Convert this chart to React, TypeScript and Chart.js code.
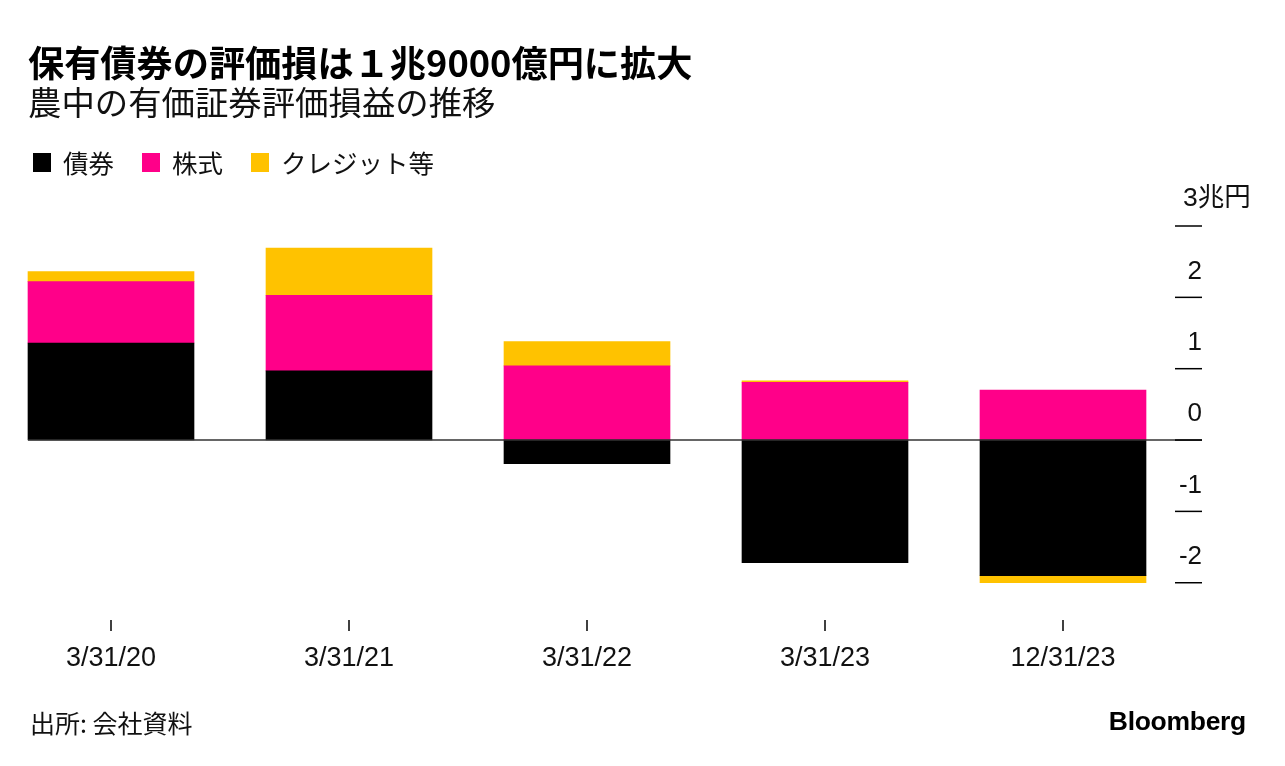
import React, { useEffect, useRef } from "react";
import { Chart, registerables } from "chart.js";

Chart.register(...registerables);

const categories = ["3/31/20", "3/31/21", "3/31/22", "3/31/23", "12/31/23"];
const bonds = [1.36, 0.97, -0.33, -1.72, -1.9];
const stocks = [0.86, 1.06, 1.04, 0.81, 0.7];
const credit = [0.14, 0.66, 0.34, 0.02, -0.1];
const seriesNames = ["債券", "株式", "クレジット等"];
const seriesColors = ["#000000", "#FF0089", "#FFC200"];
const yTickValues = [-2, -1, 0, 1, 2, 3];
const yTickLabels = ["-2", "-1", "0", "1", "2", "3兆円"];

const title = "保有債券の評価損は１兆9000億円に拡大";
const subtitle = "農中の有価証券評価損益の推移";
const source = "出所: 会社資料";

const BAR_W = 166;
const CJK = '"Noto Sans CJK JP", "Liberation Sans", sans-serif';
const LATIN = '"Liberation Sans", "Noto Sans CJK JP", sans-serif';

const axisPlugin = {
  id: "customAxes",
  afterDatasetsDraw(chart: any) {
    const ctx = chart.ctx;
    const xs = chart.scales.x;
    const ys = chart.scales.y;
    const tickLeft = 1175;
    const tickRight = 1202;
    ctx.save();
    // zero line
    const y0 = ys.getPixelForValue(0);
    ctx.strokeStyle = "#333";
    ctx.lineWidth = 1.5;
    ctx.beginPath();
    ctx.moveTo(xs.getPixelForValue(0) - BAR_W / 2, y0);
    ctx.lineTo(tickRight, y0);
    ctx.stroke();
    // y ticks
    ctx.strokeStyle = "#000";
    ctx.fillStyle = "#111";
    ctx.textBaseline = "middle";
    yTickValues.forEach((v, i) => {
      const py = ys.getPixelForValue(v);
      ctx.beginPath();
      ctx.moveTo(tickLeft, py);
      ctx.lineTo(tickRight, py);
      ctx.stroke();
      const lab = yTickLabels[i];
      if (lab.length > 2) {
        ctx.font = "26.5px " + LATIN;
        ctx.textAlign = "left";
        ctx.fillText(lab, 1183, py - 27);
      } else {
        ctx.font = "26px " + LATIN;
        ctx.textAlign = "right";
        ctx.fillText(lab, tickRight, py - 26);
      }
    });
    // x ticks
    ctx.font = "27px " + LATIN;
    ctx.textAlign = "center";
    categories.forEach((c, i) => {
      const px = xs.getPixelForValue(i);
      ctx.beginPath();
      ctx.moveTo(px, 620);
      ctx.lineTo(px, 631);
      ctx.stroke();
      ctx.fillText(c, px, 659);
    });
    ctx.restore();
  },
};

export default function App() {
  const ref = useRef<HTMLCanvasElement | null>(null);
  useEffect(() => {
    if (!ref.current) return;
    const data = [bonds, stocks, credit];
    const chart = new Chart(ref.current, {
      type: "bar",
      data: {
        labels: categories,
        datasets: data.map((d, i) => ({
          label: seriesNames[i],
          data: d,
          backgroundColor: seriesColors[i],
          borderWidth: 0,
          barThickness: BAR_W,
          clip: false as any,
        })),
      },
      options: {
        animation: false,
        responsive: true,
        maintainAspectRatio: false,
        layout: { padding: { left: 111, right: 222, top: 226, bottom: 169 } },
        plugins: { legend: { display: false }, tooltip: { enabled: false } },
        scales: {
          x: { display: false, stacked: true, offset: false },
          y: { display: false, stacked: true, min: -2.2, max: 3 },
        },
      },
      plugins: [axisPlugin],
    });
    return () => chart.destroy();
  }, []);

  const legendItem = (i: number) => (
    <div key={i} style={{ display: "flex", alignItems: "center", marginRight: 28 }}>
      <div style={{ width: 18, height: 19, background: seriesColors[i], marginRight: 12 }} />
      <span style={{ fontSize: 25.5, lineHeight: "26px", fontFamily: CJK, color: "#111" }}>{seriesNames[i]}</span>
    </div>
  );

  return (
    <div style={{ position: "fixed", left: 0, top: 0, width: 1285, height: 766, background: "#fff", overflow: "hidden" }}>
      <div style={{ position: "absolute", left: 0, top: 0, width: 1285, height: 766 }}>
        <canvas ref={ref} />
      </div>
      <div style={{ position: "absolute", left: 28, top: 42, fontSize: 36.2, lineHeight: "38px", fontWeight: 700, fontFamily: CJK, color: "#000", whiteSpace: "nowrap" }}>
        {title}
      </div>
      <div style={{ position: "absolute", left: 28, top: 83, fontSize: 33.4, lineHeight: "36px", fontWeight: 400, fontFamily: CJK, color: "#111", whiteSpace: "nowrap" }}>
        {subtitle}
      </div>
      <div style={{ position: "absolute", left: 33, top: 149, display: "flex", alignItems: "center" }}>
        {[0, 1, 2].map(legendItem)}
      </div>
      <div style={{ position: "absolute", left: 30, top: 708, fontSize: 25, lineHeight: "28px", fontFamily: CJK, color: "#111", whiteSpace: "nowrap" }}>
        {source}
      </div>
      <div style={{ position: "absolute", right: 39, top: 707, fontSize: 26.5, lineHeight: "28px", fontWeight: 700, fontFamily: LATIN, color: "#000", letterSpacing: -0.3 }}>
        Bloomberg
      </div>
    </div>
  );
}
